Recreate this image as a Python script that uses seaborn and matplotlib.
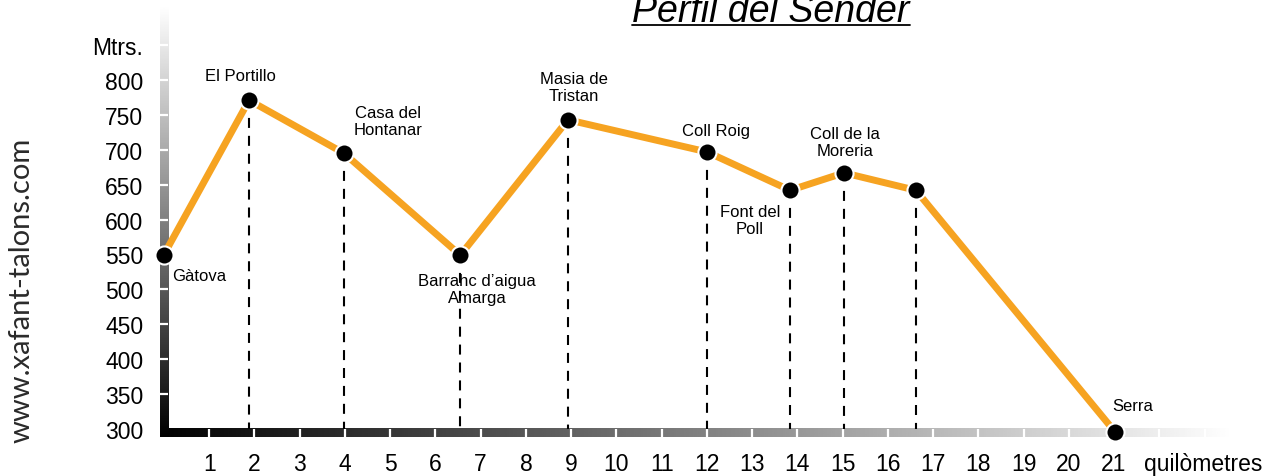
import numpy as np
import pandas as pd
import matplotlib
matplotlib.use("Agg")
import matplotlib.pyplot as plt
import seaborn as sns
from matplotlib.lines import Line2D

# ---- data ----
km = [0.0, 1.88, 3.98, 6.55, 8.93, 12.0, 13.84, 15.03, 16.62, 21.02]
elev = [550, 771, 695, 549, 743, 697, 642, 667, 642, 296]
names = ["Gàtova", "El Portillo", "Casa del\nHontanar", "Barrahc d’aigua\nAmarga",
         "Masia de\nTristan", "Coll Roig", "Font del\nPoll", "Coll de la\nMoreria", "", "Serra"]
x_ticks = list(range(1, 22))
x_tick_labels = [str(v) for v in x_ticks]
y_ticks = [300, 350, 400, 450, 500, 550, 600, 650, 700, 750, 800]
y_tick_labels = [str(v) for v in y_ticks]
x_unit = "quilòmetres"
y_unit = "Mtrs."
title = "Perfil del Sender"
watermark = "www.xafant-talons.com"

# ---- layout (label positions in data coords) ----
lab_pos = [(0.18, 520, "left"), (1.70, 806, "center"), (4.95, 741, "center"),
           (6.92, 501, "center"), (9.06, 790, "center"), (12.20, 728, "center"),
           (12.95, 599, "center"), (15.05, 711, "center"), None, (21.42, 334, "center")]

sns.set_style("white")
plt.rcParams['font.family'] = ['Liberation Sans', 'DejaVu Sans']

W, H = 1269, 477
fig = plt.figure(figsize=(W / 100, H / 100), dpi=100)
ax_left = 164 / W
ax_bottom = 47 / H
ax = fig.add_axes([ax_left, ax_bottom, (164 + 24 * 45.24) / W - ax_left, 1 - ax_bottom])
for s in ax.spines.values():
    s.set_visible(False)

df = pd.DataFrame({"km": km, "elev": elev})

# gradient bars
xb0, xb1 = -0.09, 23.6
ybot, ytop = 288.5, 905
grad_x = np.linspace(0, 1, 512).reshape(1, -1)
ax.imshow(grad_x, extent=[xb0, xb1, ybot, 300], aspect="auto", cmap="gray",
          vmin=0, vmax=1, clip_on=False, zorder=1, interpolation="bilinear")
grad_y = np.linspace(1, 0, 512).reshape(-1, 1)
ax.imshow(grad_y, extent=[-0.09, 0.09, ybot, ytop], aspect="auto", cmap="gray",
          vmin=0, vmax=1, clip_on=False, zorder=1, interpolation="bilinear")
ax.vlines(range(1, 24), ybot, 300, colors="white", lw=1.6, clip_on=False, zorder=1.5)
ax.hlines(range(350, 900, 50), -0.09, 0.09, colors="white", lw=1.6, clip_on=False, zorder=1.5)

# dashed drop lines
for x, y in zip(km[1:-1], elev[1:-1]):
    ax.plot([x, x], [y, 300], color="black", lw=1.5, linestyle=(0, (4.8, 3.8)),
            zorder=2, clip_on=False)

sns.lineplot(data=df, x="km", y="elev", color="#F6A321", lw=5, ax=ax, zorder=3,
             sort=False, clip_on=False)
sns.scatterplot(data=df, x="km", y="elev", color="black", s=170, edgecolor="white",
                linewidth=1.5, ax=ax, zorder=4, clip_on=False)

for name, p in zip(names, lab_pos):
    if p is None or not name:
        continue
    ax.text(p[0], p[1], name, ha=p[2], va="center", fontsize=12, linespacing=1.2,
            color="black", zorder=5)

ax.set_xlim(0, 24)
ax.set_ylim(300, 300 + 430 / 0.698)
ax.set_xticks(x_ticks + [22.96])
ax.set_xticklabels(x_tick_labels + [x_unit])
ax.set_yticks(y_ticks + [850])
ax.set_yticklabels(y_tick_labels + [y_unit])
ax.tick_params(axis="both", length=0, labelsize=16.5, colors="black")
ax.tick_params(axis="x", pad=16.5)
ax.tick_params(axis="y", pad=15)
ax.set_xlabel("")
ax.set_ylabel("")
ax.grid(False)

# title with underline
fig.text(771 / W, 1 - 22 / H, title, ha="center", va="baseline", fontsize=27,
         style="italic", color="black")
fig.add_artist(Line2D([632 / W, 910 / W], [1 - 25.5 / H, 1 - 25.5 / H], color="black", lw=1.3,
                      transform=fig.transFigure))

fig.text(22 / W, 1 - 290 / H, watermark, rotation=90, ha="center", va="center",
         fontsize=21, color="#2a2a2a", family=["Lato", "DejaVu Sans"])

fig.savefig("out.png", dpi=100)
